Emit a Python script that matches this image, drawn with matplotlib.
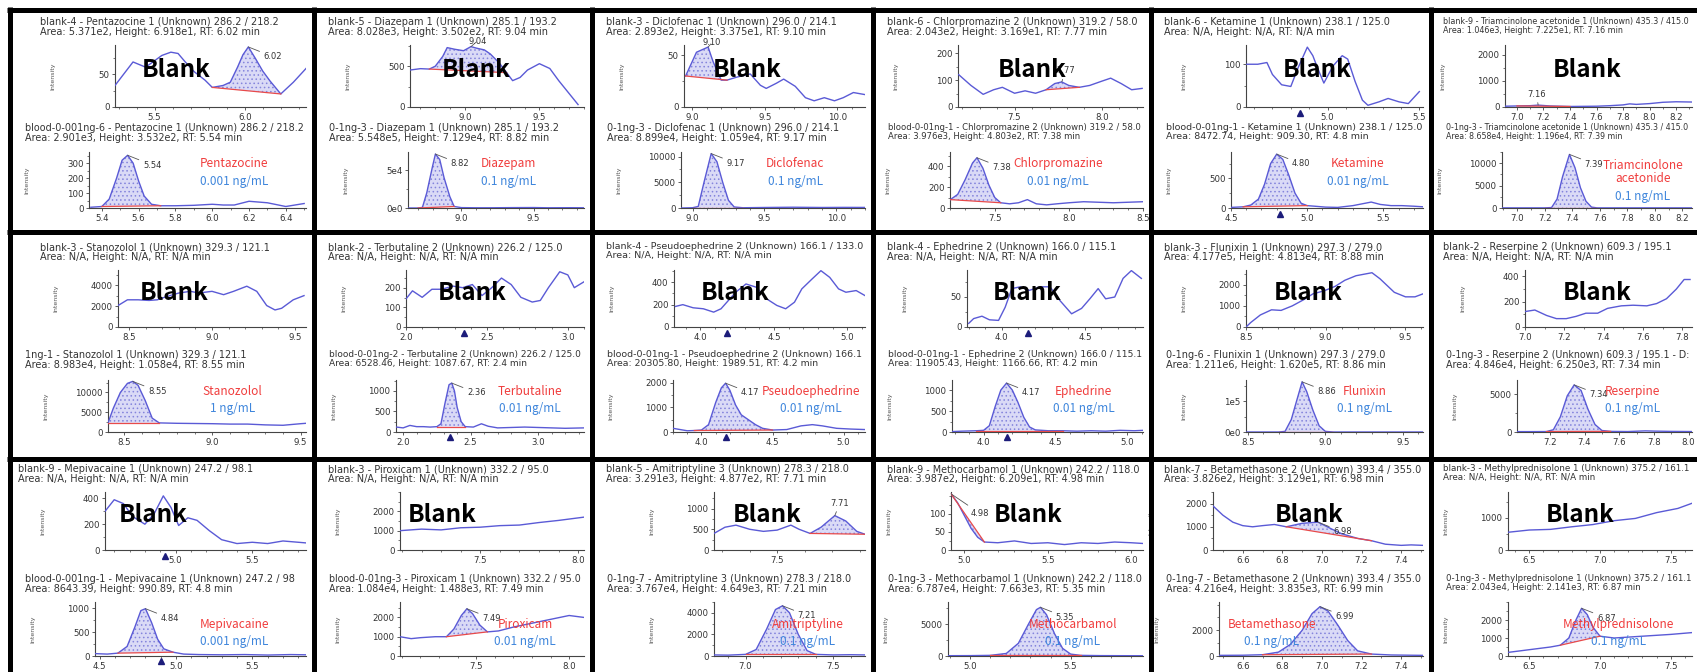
import numpy as np
import matplotlib
matplotlib.use("Agg")
import matplotlib.pyplot as plt
from matplotlib.lines import Line2D
from matplotlib.ticker import FixedLocator, MultipleLocator, AutoMinorLocator, FormatStrFormatter
from matplotlib.transforms import blended_transform_factory

# ---------------- data ----------------
drugs = ['Pentazocine', 'Diazepam', 'Diclofenac', 'Chlorpromazine', 'Ketamine', 'Triamcinolone\nacetonide',
         'Stanozolol', 'Terbutaline', 'Pseudoephedrine', 'Ephedrine', 'Flunixin', 'Reserpine',
         'Mepivacaine', 'Piroxicam', 'Amitriptyline', 'Methocarbamol', 'Betamethasone', 'Methylprednisolone']
concs = ['0.001 ng/mL', '0.1 ng/mL', '0.1 ng/mL', '0.01 ng/mL', '0.01 ng/mL', '0.1 ng/mL',
         '1 ng/mL', '0.01 ng/mL', '0.01 ng/mL', '0.01 ng/mL', '0.1 ng/mL', '0.1 ng/mL',
         '0.001 ng/mL', '0.01 ng/mL', '0.1 ng/mL', '0.1 ng/mL', '0.1 ng/mL', '0.1 ng/mL']

blank_titles = [
    "blank-4 - Pentazocine 1 (Unknown) 286.2 / 218.2\nArea: 5.371e2, Height: 6.918e1, RT: 6.02 min",
    "blank-5 - Diazepam 1 (Unknown) 285.1 / 193.2\nArea: 8.028e3, Height: 3.502e2, RT: 9.04 min",
    "blank-3 - Diclofenac 1 (Unknown) 296.0 / 214.1\nArea: 2.893e2, Height: 3.375e1, RT: 9.10 min",
    "blank-6 - Chlorpromazine 2 (Unknown) 319.2 / 58.0\nArea: 2.043e2, Height: 3.169e1, RT: 7.77 min",
    "blank-6 - Ketamine 1 (Unknown) 238.1 / 125.0\nArea: N/A, Height: N/A, RT: N/A min",
    "blank-9 - Triamcinolone acetonide 1 (Unknown) 435.3 / 415.0\nArea: 1.046e3, Height: 7.225e1, RT: 7.16 min",
    "blank-3 - Stanozolol 1 (Unknown) 329.3 / 121.1\nArea: N/A, Height: N/A, RT: N/A min",
    "blank-2 - Terbutaline 2 (Unknown) 226.2 / 125.0\nArea: N/A, Height: N/A, RT: N/A min",
    "blank-4 - Pseudoephedrine 2 (Unknown) 166.1 / 133.0\nArea: N/A, Height: N/A, RT: N/A min",
    "blank-4 - Ephedrine 2 (Unknown) 166.0 / 115.1\nArea: N/A, Height: N/A, RT: N/A min",
    "blank-3 - Flunixin 1 (Unknown) 297.3 / 279.0\nArea: 4.177e5, Height: 4.813e4, RT: 8.88 min",
    "blank-2 - Reserpine 2 (Unknown) 609.3 / 195.1\nArea: N/A, Height: N/A, RT: N/A min",
    "blank-9 - Mepivacaine 1 (Unknown) 247.2 / 98.1\nArea: N/A, Height: N/A, RT: N/A min",
    "blank-3 - Piroxicam 1 (Unknown) 332.2 / 95.0\nArea: N/A, Height: N/A, RT: N/A min",
    "blank-5 - Amitriptyline 3 (Unknown) 278.3 / 218.0\nArea: 3.291e3, Height: 4.877e2, RT: 7.71 min",
    "blank-9 - Methocarbamol 1 (Unknown) 242.2 / 118.0\nArea: 3.987e2, Height: 6.209e1, RT: 4.98 min",
    "blank-7 - Betamethasone 2 (Unknown) 393.4 / 355.0\nArea: 3.826e2, Height: 3.129e1, RT: 6.98 min",
    "blank-3 - Methylprednisolone 1 (Unknown) 375.2 / 161.1\nArea: N/A, Height: N/A, RT: N/A min",
]
sample_titles = [
    "blood-0-001ng-6 - Pentazocine 1 (Unknown) 286.2 / 218.2\nArea: 2.901e3, Height: 3.532e2, RT: 5.54 min",
    "0-1ng-3 - Diazepam 1 (Unknown) 285.1 / 193.2\nArea: 5.548e5, Height: 7.129e4, RT: 8.82 min",
    "0-1ng-3 - Diclofenac 1 (Unknown) 296.0 / 214.1\nArea: 8.899e4, Height: 1.059e4, RT: 9.17 min",
    "blood-0-01ng-1 - Chlorpromazine 2 (Unknown) 319.2 / 58.0\nArea: 3.976e3, Height: 4.803e2, RT: 7.38 min",
    "blood-0-01ng-1 - Ketamine 1 (Unknown) 238.1 / 125.0\nArea: 8472.74, Height: 909.30, RT: 4.8 min",
    "0-1ng-3 - Triamcinolone acetonide 1 (Unknown) 435.3 / 415.0\nArea: 8.658e4, Height: 1.196e4, RT: 7.39 min",
    "1ng-1 - Stanozolol 1 (Unknown) 329.3 / 121.1\nArea: 8.983e4, Height: 1.058e4, RT: 8.55 min",
    "blood-0-01ng-2 - Terbutaline 2 (Unknown) 226.2 / 125.0\nArea: 6528.46, Height: 1087.67, RT: 2.4 min",
    "blood-0-01ng-1 - Pseudoephedrine 2 (Unknown) 166.1\nArea: 20305.80, Height: 1989.51, RT: 4.2 min",
    "blood-0-01ng-1 - Ephedrine 2 (Unknown) 166.0 / 115.1\nArea: 11905.43, Height: 1166.66, RT: 4.2 min",
    "0-1ng-6 - Flunixin 1 (Unknown) 297.3 / 279.0\nArea: 1.211e6, Height: 1.620e5, RT: 8.86 min",
    "0-1ng-3 - Reserpine 2 (Unknown) 609.3 / 195.1 - D:\nArea: 4.846e4, Height: 6.250e3, RT: 7.34 min",
    "blood-0-001ng-1 - Mepivacaine 1 (Unknown) 247.2 / 98\nArea: 8643.39, Height: 990.89, RT: 4.8 min",
    "blood-0-01ng-3 - Piroxicam 1 (Unknown) 332.2 / 95.0\nArea: 1.084e4, Height: 1.488e3, RT: 7.49 min",
    "0-1ng-7 - Amitriptyline 3 (Unknown) 278.3 / 218.0\nArea: 3.767e4, Height: 4.649e3, RT: 7.21 min",
    "0-1ng-3 - Methocarbamol 1 (Unknown) 242.2 / 118.0\nArea: 6.787e4, Height: 7.663e3, RT: 5.35 min",
    "0-1ng-7 - Betamethasone 2 (Unknown) 393.4 / 355.0\nArea: 4.216e4, Height: 3.835e3, RT: 6.99 min",
    "0-1ng-3 - Methylprednisolone 1 (Unknown) 375.2 / 161.1\nArea: 2.043e4, Height: 2.141e3, RT: 6.87 min",
]

# retention time (min) / intensity
pent_blank_t = [5.28, 5.38, 5.45, 5.54, 5.59, 5.63, 5.67, 5.72, 5.78, 5.82, 5.88, 5.92, 5.96, 5.99, 6.02, 6.06, 6.10, 6.14, 6.20, 6.27, 6.34]
pent_blank_y = [33, 69, 61, 79, 84, 82, 69, 54, 41, 30, 33, 38, 61, 80, 92, 74, 55, 40, 20, 38, 59]
pent_t = [5.34, 5.40, 5.44, 5.48, 5.51, 5.54, 5.57, 5.60, 5.63, 5.67, 5.72, 5.80, 5.90, 6.00, 6.06, 6.12, 6.20, 6.30, 6.40, 6.50]
pent_y = [5, 10, 60, 200, 320, 353, 300, 180, 80, 25, 15, 15, 18, 25, 20, 20, 45, 35, 10, 30]

diaz_blank_t = [8.63, 8.70, 8.76, 8.80, 8.85, 8.88, 8.93, 8.99, 9.04, 9.08, 9.13, 9.17, 9.23, 9.28, 9.32, 9.37, 9.42, 9.50, 9.57, 9.63, 9.70, 9.76]
diaz_blank_y = [453, 470, 465, 500, 620, 728, 708, 690, 740, 720, 700, 650, 540, 421, 323, 362, 453, 531, 472, 323, 165, 30]
diaz_t = [8.63, 8.70, 8.73, 8.76, 8.80, 8.82, 8.85, 8.88, 8.92, 8.95, 9.00, 9.10, 9.20, 9.35, 9.50, 9.60, 9.75, 9.85]
diaz_y = [0, 0, 800, 20000, 55000, 71290, 64000, 40000, 15000, 2000, 500, 300, 300, 500, 600, 300, 400, 300]

dicl_blank_t = [8.955, 9.03, 9.11, 9.144, 9.20, 9.24, 9.31, 9.40, 9.47, 9.51, 9.58, 9.63, 9.71, 9.78, 9.84, 9.91, 9.98, 10.04, 10.11, 10.19]
dicl_blank_y = [30, 53, 58, 44, 26, 26, 29, 32, 21, 18, 23, 27, 20, 9, 6, 9, 6, 9, 14, 12]
dicl_t = [8.92, 9.00, 9.04, 9.08, 9.13, 9.17, 9.21, 9.25, 9.29, 9.35, 9.50, 9.70, 9.90, 10.05, 10.20]
dicl_y = [0, 50, 300, 5000, 10590, 9000, 5000, 1500, 200, 50, 100, 150, 100, 120, 110]

chlo_blank_t = [7.18, 7.25, 7.32, 7.38, 7.43, 7.50, 7.56, 7.62, 7.68, 7.73, 7.77, 7.81, 7.87, 7.93, 8.00, 8.05, 8.11, 8.17, 8.23]
chlo_blank_y = [120, 80, 47, 64, 73, 51, 60, 51, 64, 87, 93, 80, 73, 80, 96, 107, 87, 64, 69]
chlo_t = [7.20, 7.25, 7.30, 7.35, 7.38, 7.42, 7.46, 7.50, 7.54, 7.60, 7.66, 7.72, 7.78, 7.85, 7.92, 8.00, 8.10, 8.20, 8.30, 8.40, 8.50]
chlo_y = [80, 130, 270, 430, 480, 380, 220, 100, 50, 40, 50, 80, 40, 30, 40, 50, 60, 55, 50, 55, 60]

keta_blank_t = [4.556, 4.62, 4.67, 4.70, 4.75, 4.80, 4.84, 4.89, 4.92, 4.945, 4.98, 5.03, 5.08, 5.11, 5.15, 5.19, 5.22, 5.28, 5.33, 5.39, 5.44, 5.50]
keta_blank_y = [100, 100, 104, 76, 52, 48, 92, 140, 120, 92, 56, 96, 120, 112, 60, 16, 4, 12, 20, 12, 8, 36]
keta_t = [4.50, 4.58, 4.63, 4.68, 4.72, 4.76, 4.80, 4.84, 4.88, 4.92, 4.96, 5.00, 5.05, 5.12, 5.20, 5.30, 5.38, 5.42, 5.48, 5.55, 5.62, 5.70, 5.76]
keta_y = [10, 20, 50, 150, 400, 750, 909, 820, 550, 250, 80, 40, 30, 15, 10, 40, 80, 100, 60, 40, 40, 30, 20]

tria_blank_t = [6.91, 7.00, 7.10, 7.16, 7.25, 7.40, 7.60, 7.70, 7.80, 7.85, 7.90, 8.00, 8.10, 8.20, 8.32]
tria_blank_y = [30, 40, 50, 72, 40, 20, 30, 50, 80, 120, 100, 130, 180, 200, 190]
tria_t = [6.89, 7.00, 7.20, 7.25, 7.29, 7.33, 7.38, 7.42, 7.46, 7.50, 7.54, 7.58, 7.80, 8.00, 8.27]
tria_y = [30, 30, 30, 100, 2000, 7000, 11960, 9000, 4500, 1500, 200, 30, 30, 30, 30]

stan_blank_t = [8.433, 8.49, 8.555, 8.62, 8.67, 8.73, 8.80, 8.87, 8.92, 9.00, 9.07, 9.13, 9.21, 9.27, 9.33, 9.38, 9.42, 9.49, 9.555]
stan_blank_y = [2050, 2600, 2600, 2540, 2600, 2930, 3250, 3410, 3250, 3410, 3090, 3410, 3900, 3410, 2050, 1630, 1790, 2600, 3000]
stan_t = [8.41, 8.44, 8.48, 8.52, 8.55, 8.58, 8.62, 8.66, 8.70, 8.80, 9.00, 9.10, 9.20, 9.30, 9.40, 9.50, 9.53]
stan_y = [2300, 6000, 10000, 12300, 12800, 11800, 8000, 3500, 2300, 2200, 2100, 2000, 2000, 1800, 1700, 2100, 2200]

terb_blank_t = [2.00, 2.04, 2.10, 2.16, 2.22, 2.29, 2.35, 2.41, 2.47, 2.53, 2.59, 2.65, 2.71, 2.78, 2.83, 2.88, 2.95, 3.00, 3.04, 3.10]
terb_blank_y = [143, 184, 151, 192, 192, 208, 200, 216, 160, 200, 249, 216, 151, 127, 135, 200, 281, 265, 200, 230]
terb_t = [1.95, 2.00, 2.05, 2.10, 2.15, 2.20, 2.25, 2.28, 2.31, 2.34, 2.36, 2.38, 2.40, 2.43, 2.46, 2.52, 2.58, 2.63, 2.70, 2.80, 2.90, 3.00, 3.10, 3.20, 3.34]
terb_y = [120, 100, 160, 130, 130, 120, 130, 200, 700, 1150, 1190, 1000, 600, 250, 130, 120, 200, 140, 100, 110, 120, 110, 100, 90, 100]

pseu_blank_t = [3.83, 3.88, 3.95, 4.02, 4.09, 4.14, 4.19, 4.24, 4.31, 4.38, 4.45, 4.52, 4.58, 4.64, 4.69, 4.76, 4.82, 4.88, 4.94, 4.99, 5.06, 5.12]
pseu_blank_y = [184, 200, 172, 163, 133, 163, 237, 311, 385, 356, 252, 193, 163, 222, 341, 430, 504, 444, 341, 311, 326, 281]
pseu_t = [3.80, 3.85, 3.90, 3.95, 4.00, 4.05, 4.10, 4.14, 4.17, 4.20, 4.24, 4.28, 4.33, 4.38, 4.43, 4.50, 4.60, 4.70, 4.78, 4.85, 4.95, 5.05, 5.15]
pseu_y = [150, 100, 50, 60, 80, 300, 1200, 1800, 1990, 1700, 1100, 700, 500, 300, 150, 80, 100, 250, 300, 250, 150, 120, 100]

ephe_blank_t = [3.80, 3.83, 3.88, 3.925, 3.98, 4.02, 4.06, 4.11, 4.165, 4.23, 4.29, 4.35, 4.42, 4.48, 4.53, 4.58, 4.625, 4.68, 4.73, 4.78, 4.84]
ephe_blank_y = [6, 14, 18, 12, 11, 33, 64, 67, 61, 67, 67, 44, 22, 31, 47, 64, 47, 50, 81, 94, 81]
ephe_t = [3.78, 3.85, 3.95, 4.00, 4.04, 4.08, 4.12, 4.16, 4.20, 4.24, 4.28, 4.32, 4.36, 4.45, 4.55, 4.65, 4.75, 4.85, 4.95, 5.05, 5.11]
ephe_y = [10, 20, 30, 40, 150, 600, 1000, 1167, 1000, 700, 350, 120, 50, 30, 30, 20, 30, 20, 40, 30, 40]

flun_blank_t = [8.50, 8.53, 8.59, 8.66, 8.72, 8.79, 8.86, 8.92, 8.99, 9.06, 9.12, 9.19, 9.29, 9.34, 9.43, 9.50, 9.56, 9.61]
flun_blank_y = [0, 214, 571, 814, 786, 1000, 1286, 1571, 1714, 1929, 2214, 2429, 2571, 2286, 1643, 1429, 1429, 1571]
flun_t = [8.49, 8.70, 8.74, 8.78, 8.82, 8.85, 8.88, 8.92, 8.96, 9.00, 9.05, 9.30, 9.63]
flun_y = [0, 0, 2000, 40000, 110000, 162000, 130000, 70000, 20000, 2000, 0, 0, 0]

rese_blank_t = [7.00, 7.05, 7.11, 7.16, 7.21, 7.26, 7.31, 7.37, 7.42, 7.49, 7.55, 7.62, 7.67, 7.72, 7.77, 7.81, 7.84]
rese_blank_y = [122, 134, 91, 66, 66, 84, 109, 109, 147, 167, 172, 167, 185, 223, 299, 375, 375]
rese_t = [7.01, 7.10, 7.18, 7.22, 7.26, 7.30, 7.34, 7.38, 7.42, 7.46, 7.50, 7.55, 7.65, 7.75, 7.80, 7.90, 8.02]
rese_y = [50, 50, 60, 300, 2000, 4800, 6250, 5500, 3000, 1000, 200, 80, 60, 150, 120, 80, 60]

mepi_blank_t = [4.54, 4.60, 4.66, 4.72, 4.80, 4.86, 4.92, 4.97, 5.02, 5.08, 5.14, 5.22, 5.30, 5.40, 5.50, 5.60, 5.70, 5.80, 5.85]
mepi_blank_y = [300, 390, 360, 260, 200, 280, 420, 330, 190, 250, 230, 150, 80, 50, 60, 50, 70, 60, 55]
mepi_t = [4.47, 4.55, 4.62, 4.68, 4.73, 4.77, 4.80, 4.84, 4.88, 4.92, 4.98, 5.05, 5.15, 5.30, 5.45, 5.60, 5.75, 5.85]
mepi_y = [50, 40, 60, 200, 600, 950, 990, 700, 350, 150, 80, 40, 30, 25, 30, 20, 30, 25]

piro_blank_t = [7.09, 7.20, 7.30, 7.40, 7.50, 7.60, 7.70, 7.80, 7.90, 8.03]
piro_blank_y = [1000, 1080, 1040, 1150, 1180, 1260, 1290, 1420, 1530, 1700]
piro_t = [7.09, 7.15, 7.20, 7.28, 7.34, 7.38, 7.42, 7.45, 7.48, 7.52, 7.56, 7.62, 7.70, 7.80, 7.90, 8.00, 8.08]
piro_y = [1000, 900, 950, 1000, 1000, 1400, 2100, 2450, 2200, 1600, 1250, 1300, 1500, 1700, 1900, 2100, 2000]

amit_blank_t = [7.27, 7.31, 7.35, 7.40, 7.45, 7.50, 7.55, 7.58, 7.62, 7.66, 7.71, 7.75, 7.79, 7.82]
amit_blank_y = [400, 550, 600, 500, 450, 480, 600, 500, 400, 550, 830, 700, 450, 380]
amit_t = [6.82, 6.90, 7.00, 7.06, 7.12, 7.17, 7.21, 7.25, 7.30, 7.35, 7.40, 7.50, 7.60, 7.68]
amit_y = [100, 80, 150, 600, 2500, 4300, 4650, 4000, 2000, 500, 150, 100, 120, 100]

meth_blank_t = [4.92, 4.96, 5.00, 5.04, 5.08, 5.12, 5.20, 5.30, 5.40, 5.50, 5.60, 5.70, 5.80, 5.90, 6.00, 6.07]
meth_blank_y = [155, 130, 95, 60, 35, 22, 20, 25, 18, 20, 15, 20, 18, 22, 20, 18]
meth_t = [4.89, 5.00, 5.10, 5.18, 5.24, 5.29, 5.33, 5.35, 5.38, 5.42, 5.46, 5.50, 5.55, 5.65, 5.75, 5.86]
meth_y = [50, 60, 100, 400, 2000, 5000, 7300, 7663, 6500, 3500, 1200, 300, 100, 60, 50, 40]

beta_blank_t = [6.45, 6.50, 6.55, 6.60, 6.65, 6.70, 6.76, 6.82, 6.90, 6.98, 7.05, 7.10, 7.18, 7.25, 7.32, 7.40, 7.45, 7.51]
beta_blank_y = [1900, 1500, 1200, 1050, 1000, 1050, 1100, 1000, 1150, 1200, 900, 700, 500, 400, 250, 200, 220, 200]
beta_t = [6.48, 6.60, 6.70, 6.78, 6.84, 6.90, 6.95, 6.99, 7.03, 7.08, 7.13, 7.18, 7.25, 7.35, 7.45, 7.51]
beta_y = [50, 60, 100, 300, 900, 2000, 3300, 3835, 3500, 2400, 1200, 400, 150, 80, 60, 50]

mepr_blank_t = [6.35, 6.50, 6.65, 6.80, 6.95, 7.10, 7.25, 7.40, 7.55, 7.65]
mepr_blank_y = [550, 620, 640, 720, 790, 910, 980, 1160, 1290, 1450]
mepr_t = [6.35, 6.45, 6.55, 6.65, 6.72, 6.78, 6.83, 6.87, 6.91, 6.95, 7.00, 7.10, 7.20, 7.30, 7.40, 7.50, 7.65]
mepr_y = [200, 300, 400, 500, 600, 1000, 2000, 2650, 2300, 1600, 1100, 1000, 1050, 1100, 1150, 1200, 1300]

# per panel: (blank trace, blank axis), (sample trace, sample axis)
PANELS = [
    ((pent_blank_t, pent_blank_y, dict(xlim=(5.28, 6.34), ylim=(0, 95), xstep=0.5, yticks=[0, 50], fill=(5.82, 6.20), rt='6.02')),
     (pent_t, pent_y, dict(xlim=(5.33, 6.51), ylim=(0, 375), xstep=0.2, yticks=[0, 100, 200, 300], fill=(5.40, 5.72), rt='5.54'))),
    ((diaz_blank_t, diaz_blank_y, dict(xlim=(8.63, 9.80), ylim=(0, 760), xstep=0.5, yticks=[0, 500], fill=(8.76, 9.28), rt='9.04', rt_off=(-2, 4))),
     (diaz_t, diaz_y, dict(xlim=(8.63, 9.85), ylim=(0, 74000), xstep=0.5, yticks=[0, 50000], ylabels=['0e0', '5e4'], fill=(8.70, 8.95), rt='8.82'))),
    ((dicl_blank_t, dicl_blank_y, dict(xlim=(8.944, 10.19), ylim=(0, 60), xstep=0.5, yticks=[0, 50], fill=(8.955, 9.24), rt='9.10', rt_off=(-4, 3))),
     (dicl_t, dicl_y, dict(xlim=(8.92, 10.2), ylim=(0, 10900), xstep=0.5, yticks=[0, 5000, 10000], fill=(9.0, 9.35), rt='9.17'))),
    ((chlo_blank_t, chlo_blank_y, dict(xlim=(7.176, 8.235), ylim=(0, 230), xstep=0.5, yticks=[0, 100, 200], fill=(7.68, 7.87), rt='7.77', rt_off=(-4, 8))),
     (chlo_t, chlo_y, dict(xlim=(7.198, 8.5), ylim=(0, 535), xstep=0.5, yticks=[0, 200, 400], fill=(7.20, 7.54), rt='7.38'))),
    ((keta_blank_t, keta_blank_y, dict(xlim=(4.556, 5.52), ylim=(0, 145), xstep=0.5, yticks=[0, 100], arrow=4.85)),
     (keta_t, keta_y, dict(xlim=(4.5, 5.76), ylim=(0, 945), xstep=0.5, yticks=[0, 500], fill=(4.58, 5.0), rt='4.80', arrow=4.82))),
    ((tria_blank_t, tria_blank_y, dict(xlim=(6.91, 8.32), ylim=(0, 2370), xstep=0.2, yticks=[0, 1000, 2000], fill=(7.00, 7.40), rt='7.16', rt_off=(-8, 8))),
     (tria_t, tria_y, dict(xlim=(6.89, 8.27), ylim=(0, 12500), xstep=0.2, yticks=[0, 5000, 10000], fill=(7.20, 7.58), rt='7.39'))),
    ((stan_blank_t, stan_blank_y, dict(xlim=(8.433, 9.567), ylim=(0, 5450), xstep=0.5, yticks=[0, 2000, 4000])),
     (stan_t, stan_y, dict(xlim=(8.41, 9.53), ylim=(0, 13150), xstep=0.5, yticks=[0, 5000, 10000], fill=(8.41, 8.70), rt='8.55'))),
    ((terb_blank_t, terb_blank_y, dict(xlim=(2.0, 3.1), ylim=(0, 290), xstep=0.5, yticks=[0, 100, 200], arrow=2.357)),
     (terb_t, terb_y, dict(xlim=(1.947, 3.34), ylim=(0, 1265), xstep=0.5, yticks=[0, 500, 1000], fill=(2.25, 2.46), rt='2.36', arrow=2.35))),
    ((pseu_blank_t, pseu_blank_y, dict(xlim=(3.82, 5.12), ylim=(0, 510), xstep=0.5, yticks=[0, 200, 400], arrow=4.18)),
     (pseu_t, pseu_y, dict(xlim=(3.80, 5.15), ylim=(0, 2120), xstep=0.5, yticks=[0, 1000, 2000], fill=(3.95, 4.50), rt='4.17', arrow=4.17))),
    ((ephe_blank_t, ephe_blank_y, dict(xlim=(3.79, 4.85), ylim=(0, 95), xstep=0.5, yticks=[0, 50], arrow=4.155)),
     (ephe_t, ephe_y, dict(xlim=(3.78, 5.11), ylim=(0, 1240), xstep=0.5, yticks=[0, 500, 1000], fill=(3.95, 4.55), rt='4.17', arrow=4.16))),
    ((flun_blank_t, flun_blank_y, dict(xlim=(8.5, 9.61), ylim=(0, 2700), xstep=0.5, yticks=[0, 1000, 2000])),
     (flun_t, flun_y, dict(xlim=(8.488, 9.63), ylim=(0, 168000), xstep=0.5, yticks=[0, 100000], ylabels=['0e0', '1e5'], fill=(8.70, 9.05), rt='8.86'))),
    ((rese_blank_t, rese_blank_y, dict(xlim=(7.0, 7.85), ylim=(0, 450), xstep=0.2, yticks=[0, 200, 400])),
     (rese_t, rese_y, dict(xlim=(7.01, 8.02), ylim=(0, 6900), xstep=0.2, yticks=[0, 5000], fill=(7.18, 7.55), rt='7.34'))),
    ((mepi_blank_t, mepi_blank_y, dict(xlim=(4.54, 5.85), ylim=(0, 450), xstep=0.5, yticks=[0, 200, 400], arrow=4.93)),
     (mepi_t, mepi_y, dict(xlim=(4.47, 5.85), ylim=(0, 1130), xstep=0.5, yticks=[0, 500, 1000], fill=(4.62, 4.98), rt='4.84', arrow=4.90))),
    ((piro_blank_t, piro_blank_y, dict(xlim=(7.09, 8.03), ylim=(0, 3000), xstep=0.5, yticks=[0, 1000, 2000])),
     (piro_t, piro_y, dict(xlim=(7.09, 8.08), ylim=(0, 2800), xstep=0.5, yticks=[0, 1000, 2000], fill=(7.34, 7.56), rt='7.49'))),
    ((amit_blank_t, amit_blank_y, dict(xlim=(7.27, 7.82), ylim=(0, 1400), xstep=0.5, yticks=[0, 500, 1000], fill=(7.62, 7.82), rt='7.71', rt_off=(-3, 9))),
     (amit_t, amit_y, dict(xlim=(6.82, 7.68), ylim=(0, 5000), xstep=0.5, yticks=[0, 2000, 4000], fill=(7.00, 7.40), rt='7.21'))),
    ((meth_blank_t, meth_blank_y, dict(xlim=(4.92, 6.07), ylim=(0, 160), xstep=0.5, yticks=[0, 50, 100], fill=(4.92, 5.12), rt='4.98', rt_off=(14, -14))),
     (meth_t, meth_y, dict(xlim=(4.89, 5.86), ylim=(0, 8500), xstep=0.5, yticks=[0, 5000], fill=(5.10, 5.55), rt='5.35'))),
    ((beta_blank_t, beta_blank_y, dict(xlim=(6.45, 7.51), ylim=(0, 2500), xstep=0.2, yticks=[0, 1000, 2000], fill=(6.82, 7.25), rt='6.98')),
     (beta_t, beta_y, dict(xlim=(6.48, 7.51), ylim=(0, 4200), xstep=0.2, yticks=[0, 2000], fill=(6.70, 7.25), rt='6.99'))),
    ((mepr_blank_t, mepr_blank_y, dict(xlim=(6.35, 7.65), ylim=(0, 1800), xstep=0.5, yticks=[0, 1000])),
     (mepr_t, mepr_y, dict(xlim=(6.35, 7.65), ylim=(0, 3000), xstep=0.5, yticks=[0, 1000, 2000], fill=(6.72, 7.00), rt='6.87'))),
]

# ---------------- layout (pixels) ----------------
W, H = 1697, 672
col_left = [12, 316, 594, 875, 1153, 1433]
col_right = [311, 589, 870, 1148, 1428, 1697]
row_top = [12, 235, 462]
title_top = [5, 7, 2]
top_ax = [(33, 95), (35, 92), (30, 88)]
title2_top = [111, 115, 112]
bot_ax = [(140, 196), (145, 197), (140, 194)]
title_dx = [[28, 12, 12, 12, 11, 10], [28, 12, 12, 12, 11, 10], [6, 12, 12, 12, 11, 10]]
ax_off = [(103, 77), (94, 92), (90, 87), (83, 75), (93, 78), (72, 69),
          (106, 96), (90, 80), (80, 79), (92, 77), (93, 93), (92, 84),
          (93, 83), (84, 84), (120, 120), (76, 73), (60, 66), (75, 75)]
blank_x = [0.32, 0.38, 0.35, 0.40, 0.40, 0.44,
           0.30, 0.37, 0.32, 0.34, 0.35, 0.43,
           0.24, 0.23, 0.35, 0.40, 0.46, 0.39]
label_x = [0.67, 0.57, 0.62, 0.56, 0.66, 0.74,
           0.63, 0.71, 0.72, 0.69, 0.67, 0.66,
           0.66, 0.68, 0.62, 0.64, 0.26, 0.60]
label_y = [0.80, 0.78, 0.58]

LINE = '#5a5ad6'
FILL = '#dadaf6'
HATCH = '#8484dc'
BASE = '#e84a4a'
NAME_RED = '#f03c3c'
CONC_BLUE = '#3f86dc'
NAVY = '#1c1c7a'

plt.rcParams['hatch.color'] = HATCH
plt.rcParams['hatch.linewidth'] = 0.6

fig = plt.figure(figsize=(W / 100, H / 100), dpi=100)
fig.patch.set_facecolor('white')
renderer = fig.canvas.get_renderer()


def rect(x0, y0, x1, y1):
    return [x0 / W, 1 - y1 / H, (x1 - x0) / W, (y1 - y0) / H]


def fit_title(x, y, s, xmax):
    t = fig.text(x / W, 1 - y / H, s, ha='left', va='top', fontsize=7, color='#333333',
                 linespacing=0.95, zorder=5)
    w = t.get_window_extent(renderer=renderer).width
    room = xmax - x
    if w > room:
        t.set_fontsize(7 * room / w)
    return t


def chrom(ax, t, y, axw, xlim, ylim, xstep, yticks, ylabels=None, fill=None, rt=None, rt_off=(11, -7), arrow=None):
    t = np.asarray(t, float)
    y = np.asarray(y, float)
    ax.plot(t, y, color=LINE, lw=1.0, zorder=3)
    if fill is not None:
        m = (t >= fill[0] - 1e-9) & (t <= fill[1] + 1e-9)
        ts, ys = t[m], y[m]
        base = np.interp(ts, [ts[0], ts[-1]], [ys[0], ys[-1]])
        ax.fill_between(ts, base, ys, facecolor=FILL, edgecolor=HATCH, hatch='....', linewidth=0, zorder=2)
        ax.plot([ts[0], ts[-1]], [ys[0], ys[-1]], color=BASE, lw=0.9, zorder=4)
        if rt:
            k = int(np.argmax(ys))
            ax.annotate(rt, xy=(ts[k], ys[k]), xytext=rt_off, textcoords='offset points',
                        fontsize=6, color='#333333', ha='left', va='center', zorder=6,
                        annotation_clip=False,
                        arrowprops=dict(arrowstyle='-', color='#555555', lw=0.6, shrinkA=1, shrinkB=0))
    if arrow is not None:
        tr = blended_transform_factory(ax.transData, ax.transAxes)
        ax.plot([arrow], [-0.1], marker='^', ms=5, color=NAVY, transform=tr, clip_on=False, zorder=6)

    ax.set_xlim(*xlim)
    ax.set_ylim(*ylim)
    for sp in ['top', 'right']:
        ax.spines[sp].set_visible(False)
    for sp in ['left', 'bottom']:
        ax.spines[sp].set_color('#444444')
        ax.spines[sp].set_linewidth(0.8)
    ax.xaxis.set_major_locator(MultipleLocator(xstep))
    ax.xaxis.set_major_formatter(FormatStrFormatter('%.1f'))
    ax.xaxis.set_minor_locator(AutoMinorLocator(5 if xstep >= 0.5 else 2))
    ax.yaxis.set_major_locator(FixedLocator(yticks))
    ax.set_yticklabels(ylabels if ylabels else [str(int(v)) for v in yticks])
    ax.yaxis.set_minor_locator(AutoMinorLocator(2))
    ax.tick_params(labelsize=6.2, colors='#444444', labelcolor='#333333', length=2.5, width=0.6, pad=1.5)
    ax.tick_params(which='minor', length=1.5, width=0.5, colors='#444444')
    ax.set_ylabel('Intensity', fontsize=4.5, color='#555555')
    ax.yaxis.set_label_coords(-60 / axw, 0.5)
    ax.patch.set_alpha(0)


for i, (blank, sample) in enumerate(PANELS):
    r, c = divmod(i, 6)
    px0, px1 = col_left[c], col_right[c]
    ry = row_top[r]

    fit_title(px0 + title_dx[r][c], ry + title_top[r], blank_titles[i], px1 - 6)
    fit_title(px0 + 13, ry + title2_top[r], sample_titles[i], px1 - 6)

    # blank chromatogram
    x0 = px0 + ax_off[i][0]
    ax1 = fig.add_axes(rect(x0, ry + top_ax[r][0], px1 - 5, ry + top_ax[r][1]))
    chrom(ax1, blank[0], blank[1], px1 - 5 - x0, **blank[2])
    ax1.text(blank_x[i], 0.6, 'Blank', transform=ax1.transAxes, ha='center', va='center',
             fontsize=17.5, fontweight='bold', family=['Noto Sans CJK KR', 'DejaVu Sans'],
             color='black', zorder=10)

    # spiked sample chromatogram
    x0 = px0 + ax_off[i][1]
    ax2 = fig.add_axes(rect(x0, ry + bot_ax[r][0], px1 - 5, ry + bot_ax[r][1]))
    chrom(ax2, sample[0], sample[1], px1 - 5 - x0, **sample[2])
    n = drugs[i].count('\n') + 1
    ly = label_y[r]
    ax2.text(label_x[i], ly - 0.16 * (n - 1), drugs[i], transform=ax2.transAxes, ha='center', va='center',
             fontsize=8.5, color=NAME_RED, family=['Noto Sans CJK KR', 'DejaVu Sans'],
             linespacing=1.0, zorder=8, clip_on=False)
    ax2.text(label_x[i], ly - 0.32 - 0.28 * (n - 1), concs[i], transform=ax2.transAxes, ha='center',
             va='center', fontsize=8.5, color=CONC_BLUE, family=['Noto Sans CJK KR', 'DejaVu Sans'],
             zorder=8, clip_on=False)

# black panel borders
lw = 3.6
for yb in [9.5, 231.5, 458.5]:
    fig.add_artist(Line2D([7 / W, 1], [1 - yb / H, 1 - yb / H], transform=fig.transFigure,
                          color='black', lw=lw, solid_capstyle='butt', zorder=100))
for xb in [9.5, 313.5, 591.5, 872.5, 1150.5, 1430.5]:
    fig.add_artist(Line2D([xb / W, xb / W], [1 - 7 / H, 0], transform=fig.transFigure,
                          color='black', lw=lw, solid_capstyle='butt', zorder=100))

fig.savefig('out.png', dpi=100)
